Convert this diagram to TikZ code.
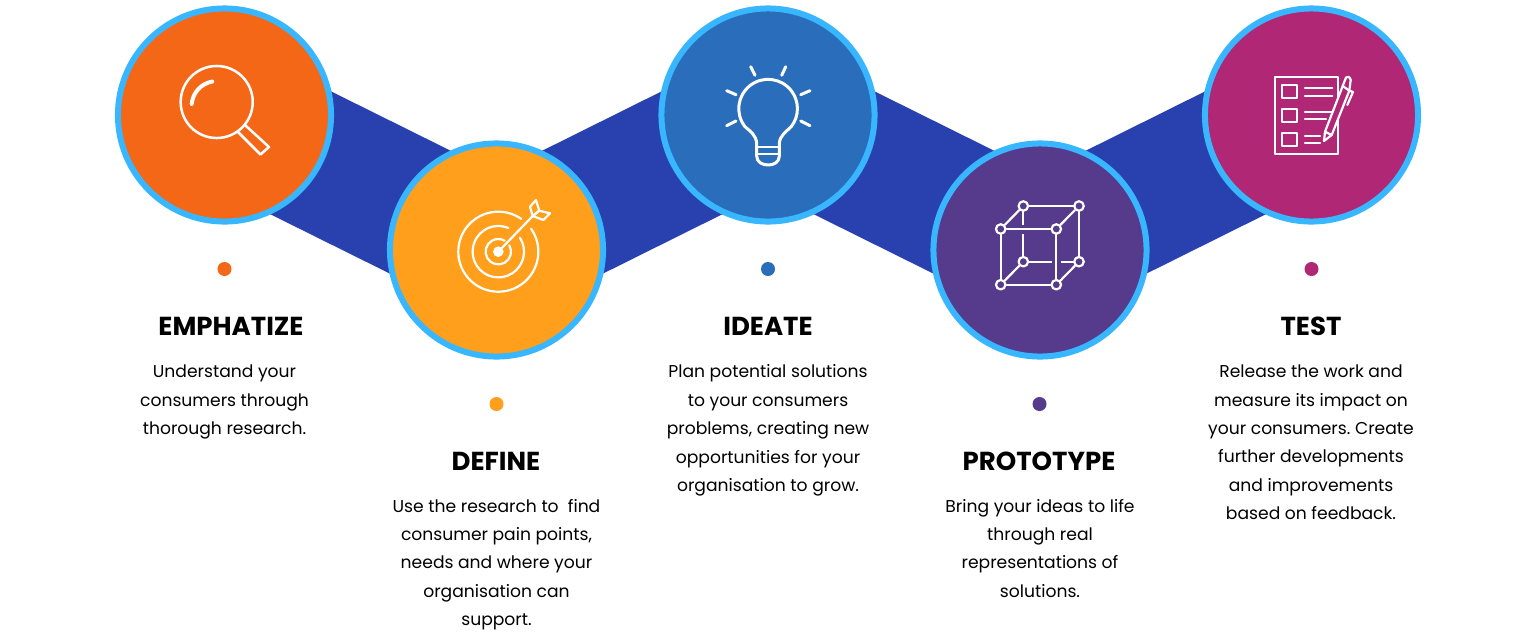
\documentclass[tikz,border=0pt]{standalone}
\usepackage{fontspec}
\setmainfont{Poppins}
\usetikzlibrary{backgrounds}
\definecolor{ringblue}{HTML}{38B6FF}
\definecolor{bandblue}{HTML}{2841AE}
\definecolor{emporange}{HTML}{F46717}
\definecolor{defyellow}{HTML}{FF9F1C}
\definecolor{ideblue}{HTML}{2A6DBB}
\definecolor{propurple}{HTML}{563A8C}
\definecolor{testpink}{HTML}{B02775}
\tikzset{
	stepdisc/.style={circle, draw=ringblue, line width=0.06cm, minimum size=2.13cm, inner sep=0pt},
	stepdot/.style={circle, minimum size=0.14cm, inner sep=0pt},
	band/.style={bandblue, line width=1.37cm, line cap=butt},
	icon/.style={draw=white, line width=0.022cm},
	vertex/.style={circle, draw=white, fill=propurple, line width=0.022cm, minimum size=0.095cm, inner sep=0pt},
	heading/.style={font=\fontsize{7.4}{9}\selectfont\bfseries},
	blurb/.style={anchor=north, align=center, font=\frenchspacing\fontsize{4.88}{8.08}\selectfont},
}
\begin{document}
\begin{tikzpicture}[x=0.01cm, y=-0.01cm, line join=round, line cap=round]
	\useasboundingbox (0,0) rectangle (1536,633);
	\node[stepdisc, fill=emporange] (E) at (224.5,115) {};
	\node[stepdisc, fill=defyellow] (D) at (496.5,250) {};
	\node[stepdisc, fill=ideblue] (I) at (768,115) {};
	\node[stepdisc, fill=propurple] (P) at (1040,250) {};
	\node[stepdisc, fill=testpink] (T) at (1311.5,115) {};
	\begin{scope}[on background layer]
		\draw[band] (E.center) -- (D.center) -- (I.center) -- (P.center) -- (T.center);
	\end{scope}

	\node[stepdot, fill=emporange] (dotE) at (224.5,269) {};
	\node[stepdot, fill=defyellow] (dotD) at (496.5,404) {};
	\node[stepdot, fill=ideblue] (dotI) at (768,269) {};
	\node[stepdot, fill=propurple] (dotP) at (1039.5,404) {};
	\node[stepdot, fill=testpink] (dotT) at (1311.5,269) {};

	\node[heading] (headE) at (231,326) {EMPHATIZE};
	\node[heading] (headD) at (496,461) {DEFINE};
	\node[heading] (headI) at (768,326) {IDEATE};
	\node[heading] (headP) at (1039,461) {PROTOTYPE};
	\node[heading] (headT) at (1311,326) {TEST};

	\node[blurb] (textE) at (224.5,352.5) {Understand your\\consumers through\\thorough research.};
	\node[blurb] (textD) at (496.5,486.5) {Use the research to\ \ find\\consumer pain points,\\needs and where your\\organisation can\\support.};
	\node[blurb] (textI) at (768,352.5) {Plan potential solutions\\to your consumers\\problems, creating new\\opportunities for your\\organisation to grow.};
	\node[blurb] (textP) at (1040,486.5) {Bring your ideas to life\\through real\\representations of\\solutions.};
	\node[blurb] (textT) at (1311,352.5) {Release the work and\\measure its impact on\\your consumers. Create\\further developments\\and improvements\\based on feedback.};

	% magnifier
	\draw[icon, line width=0.025cm] (216.7,102) circle [radius=0.36cm];
	\draw[icon, line width=0.04cm] (191.7,104) arc [start angle=175, end angle=100, radius=0.25cm];
	\draw[icon, line width=0.025cm] (245,125) -- (269,147) -- (260.5,154.5) -- (238,132);

	% target
	\draw[icon] (498.3,251.7) ++(35:0.4cm) arc [start angle=35, end angle=-305, radius=0.4cm];
	\draw[icon] (498.3,251.7) ++(33:0.257cm) arc [start angle=33, end angle=-293, radius=0.257cm];
	\draw[icon] (498.3,251.7) ++(30:0.127cm) arc [start angle=30, end angle=-300, radius=0.127cm];
	\fill[white] (498.3,251.7) circle [radius=0.053cm];
	\draw[icon] (498.3,251.7) -- (532.7,216);
	\draw[icon] (532.7,216) -- (530,206.7) -- (536,200) -- (539.3,210.7) -- cycle;
	\draw[icon] (532.7,216) -- (539.3,210.7) -- (550,213.3) -- (543.3,220) -- cycle;

	% bulb
	\draw[icon, line width=0.03cm] (756.7,143.3) .. controls (756,135) and (750,131) .. (745,126.7) arc [start angle=218, end angle=-38, radius=0.293cm] .. controls (787,131) and (780,135) .. (779.3,143.3) -- (779.3,156) .. controls (779.3,162) and (774,165) .. (768.3,165) .. controls (762,165) and (756.7,162) .. (756.7,156) -- cycle;
	\draw[icon] (756.7,147) -- (779.3,147);
	\draw[icon] (756.7,154) -- (779.3,154);
	\foreach \xa/\ya/\xb/\yb in {750.7/66.7/755/75.3, 785.7/66.7/781.7/75.3, 726.7/90.7/736/94.7, 810/90.7/800.7/94.7, 726.7/125.7/736/121, 810/125.7/800.7/121}
		\draw[icon, line width=0.03cm] (\xa,\ya) -- (\xb,\yb);

	% cube
	\node[vertex] (fa) at (1000.7,229) {};
	\node[vertex] (fb) at (1056.3,229) {};
	\node[vertex] (fc) at (1056.3,284.7) {};
	\node[vertex] (fd) at (1000.7,284.7) {};
	\node[vertex] (ba) at (1023.3,206) {};
	\node[vertex] (bb) at (1079,206) {};
	\node[vertex] (bc) at (1079,261.7) {};
	\node[vertex] (bd) at (1023.3,261.7) {};
	\foreach \from/\to in {ba/bb, bb/bc, bc/bd, bd/ba, fa/ba, fb/bb, fc/bc, fd/bd, fc/fd, fd/fa}
		\draw[icon] (\from) -- (\to);
	\foreach \from/\to in {fa/fb, fb/fc}
		\draw[icon, preaction={draw=propurple, line width=0.09cm, line cap=butt}] (\from) -- (\to);

	% checklist
	\draw[icon] (1275,76.7) rectangle (1337.7,154.3);
	\foreach \ya/\yb in {85/98.3, 109/122.3, 132.7/146}
		\draw[icon] (1282.3,\ya) rectangle (1296.7,\yb);
	\foreach \ya/\xb in {88.3/1332.3, 96/1332.3, 111.7/1332.3, 119.3/1326, 136/1320, 143.3/1320}
		\draw[icon] (1305,\ya) -- (\xb,\ya);
	\draw[icon, fill=testpink] (1324,141) -- (1325,131.7) -- (1342.7,86) -- (1346,77.5) .. controls (1347,76) and (1350,76.5) .. (1350.7,80) -- (1349.3,90.7) -- (1331.7,135) -- cycle;
	\draw[icon] (1342.7,86) -- (1349.3,90.7);
	\draw[icon] (1325,131.7) -- (1331.7,135);
	\draw[icon] (1349.3,90.7) -- (1353,92) -- (1347.3,105);
\end{tikzpicture}
\end{document}
